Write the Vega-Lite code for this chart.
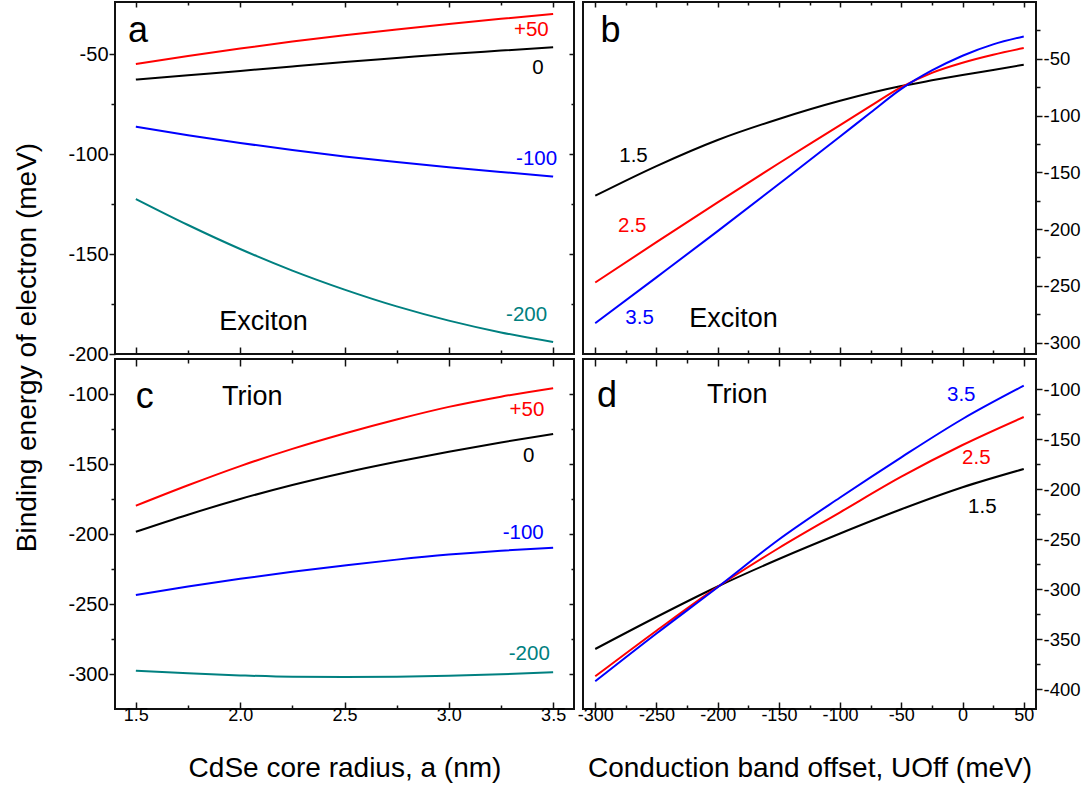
{
  "$schema": "https://vega.github.io/schema/vega-lite/v6.json",
  "padding": {"left": 12, "top": 0, "right": 5, "bottom": 5},
  "background": "white",
  "datasets": {
    "curves": [
      {"panel": "a", "series": "+50", "x": 1.5, "y": -55}, {"panel": "a", "series": "+50", "x": 1.75, "y": -51}, {"panel": "a", "series": "+50", "x": 2.0, "y": -47.3}, {"panel": "a", "series": "+50", "x": 2.25, "y": -43.8}, {"panel": "a", "series": "+50", "x": 2.5, "y": -40.6}, {"panel": "a", "series": "+50", "x": 2.75, "y": -37.7}, {"panel": "a", "series": "+50", "x": 3.0, "y": -35}, {"panel": "a", "series": "+50", "x": 3.25, "y": -32.4}, {"panel": "a", "series": "+50", "x": 3.5, "y": -30},
      {"panel": "a", "series": "0", "x": 1.5, "y": -62.8}, {"panel": "a", "series": "0", "x": 1.75, "y": -60.6}, {"panel": "a", "series": "0", "x": 2.0, "y": -58.5}, {"panel": "a", "series": "0", "x": 2.25, "y": -56.2}, {"panel": "a", "series": "0", "x": 2.5, "y": -54}, {"panel": "a", "series": "0", "x": 2.75, "y": -52}, {"panel": "a", "series": "0", "x": 3.0, "y": -50}, {"panel": "a", "series": "0", "x": 3.25, "y": -48.3}, {"panel": "a", "series": "0", "x": 3.5, "y": -46.6},
      {"panel": "a", "series": "-100", "x": 1.5, "y": -86.3}, {"panel": "a", "series": "-100", "x": 1.75, "y": -90.6}, {"panel": "a", "series": "-100", "x": 2.0, "y": -94.5}, {"panel": "a", "series": "-100", "x": 2.25, "y": -98}, {"panel": "a", "series": "-100", "x": 2.5, "y": -101.2}, {"panel": "a", "series": "-100", "x": 2.75, "y": -104}, {"panel": "a", "series": "-100", "x": 3.0, "y": -106.6}, {"panel": "a", "series": "-100", "x": 3.25, "y": -109}, {"panel": "a", "series": "-100", "x": 3.5, "y": -111.3},
      {"panel": "a", "series": "-200", "x": 1.5, "y": -122.5}, {"panel": "a", "series": "-200", "x": 1.75, "y": -135.5}, {"panel": "a", "series": "-200", "x": 2.0, "y": -147.5}, {"panel": "a", "series": "-200", "x": 2.25, "y": -158.3}, {"panel": "a", "series": "-200", "x": 2.5, "y": -167.8}, {"panel": "a", "series": "-200", "x": 2.75, "y": -176.2}, {"panel": "a", "series": "-200", "x": 3.0, "y": -183.3}, {"panel": "a", "series": "-200", "x": 3.25, "y": -189.2}, {"panel": "a", "series": "-200", "x": 3.5, "y": -194},

      {"panel": "c", "series": "+50", "x": 1.5, "y": -179.8}, {"panel": "c", "series": "+50", "x": 1.75, "y": -165.2}, {"panel": "c", "series": "+50", "x": 2.0, "y": -151.5}, {"panel": "c", "series": "+50", "x": 2.25, "y": -139.2}, {"panel": "c", "series": "+50", "x": 2.5, "y": -128.2}, {"panel": "c", "series": "+50", "x": 2.75, "y": -118.2}, {"panel": "c", "series": "+50", "x": 3.0, "y": -109.2}, {"panel": "c", "series": "+50", "x": 3.25, "y": -101.9}, {"panel": "c", "series": "+50", "x": 3.5, "y": -95.8},
      {"panel": "c", "series": "0", "x": 1.5, "y": -198.4}, {"panel": "c", "series": "0", "x": 1.75, "y": -186.2}, {"panel": "c", "series": "0", "x": 2.0, "y": -175}, {"panel": "c", "series": "0", "x": 2.25, "y": -165}, {"panel": "c", "series": "0", "x": 2.5, "y": -156.2}, {"panel": "c", "series": "0", "x": 2.75, "y": -148.4}, {"panel": "c", "series": "0", "x": 3.0, "y": -141.2}, {"panel": "c", "series": "0", "x": 3.25, "y": -134.6}, {"panel": "c", "series": "0", "x": 3.5, "y": -128.6},
      {"panel": "c", "series": "-100", "x": 1.5, "y": -243.6}, {"panel": "c", "series": "-100", "x": 1.75, "y": -237.5}, {"panel": "c", "series": "-100", "x": 2.0, "y": -232}, {"panel": "c", "series": "-100", "x": 2.25, "y": -227}, {"panel": "c", "series": "-100", "x": 2.5, "y": -222.5}, {"panel": "c", "series": "-100", "x": 2.75, "y": -218.3}, {"panel": "c", "series": "-100", "x": 3.0, "y": -214.7}, {"panel": "c", "series": "-100", "x": 3.25, "y": -211.9}, {"panel": "c", "series": "-100", "x": 3.5, "y": -209.8},
      {"panel": "c", "series": "-200", "x": 1.5, "y": -297.6}, {"panel": "c", "series": "-200", "x": 1.75, "y": -299.5}, {"panel": "c", "series": "-200", "x": 2.0, "y": -301}, {"panel": "c", "series": "-200", "x": 2.25, "y": -302}, {"panel": "c", "series": "-200", "x": 2.5, "y": -302.2}, {"panel": "c", "series": "-200", "x": 2.75, "y": -302}, {"panel": "c", "series": "-200", "x": 3.0, "y": -301.3}, {"panel": "c", "series": "-200", "x": 3.25, "y": -300.2}, {"panel": "c", "series": "-200", "x": 3.5, "y": -298.8},

      {"panel": "b", "series": "1.5", "x": -300, "y": -170.6}, {"panel": "b", "series": "1.5", "x": -250, "y": -144.5}, {"panel": "b", "series": "1.5", "x": -200, "y": -121.5}, {"panel": "b", "series": "1.5", "x": -150, "y": -103}, {"panel": "b", "series": "1.5", "x": -100, "y": -87}, {"panel": "b", "series": "1.5", "x": -50, "y": -74}, {"panel": "b", "series": "1.5", "x": -25, "y": -69}, {"panel": "b", "series": "1.5", "x": 0, "y": -64.3}, {"panel": "b", "series": "1.5", "x": 25, "y": -59.8}, {"panel": "b", "series": "1.5", "x": 50, "y": -55.3},
      {"panel": "b", "series": "2.5", "x": -300, "y": -247}, {"panel": "b", "series": "2.5", "x": -250, "y": -211.5}, {"panel": "b", "series": "2.5", "x": -200, "y": -176.5}, {"panel": "b", "series": "2.5", "x": -150, "y": -142}, {"panel": "b", "series": "2.5", "x": -100, "y": -108.5}, {"panel": "b", "series": "2.5", "x": -75, "y": -91.5}, {"panel": "b", "series": "2.5", "x": -50, "y": -75}, {"panel": "b", "series": "2.5", "x": -25, "y": -62.4}, {"panel": "b", "series": "2.5", "x": 0, "y": -53.5}, {"panel": "b", "series": "2.5", "x": 25, "y": -46.5}, {"panel": "b", "series": "2.5", "x": 50, "y": -40.6},
      {"panel": "b", "series": "3.5", "x": -300, "y": -282.9}, {"panel": "b", "series": "3.5", "x": -250, "y": -242.5}, {"panel": "b", "series": "3.5", "x": -200, "y": -201.8}, {"panel": "b", "series": "3.5", "x": -150, "y": -160.3}, {"panel": "b", "series": "3.5", "x": -100, "y": -118.5}, {"panel": "b", "series": "3.5", "x": -75, "y": -97.3}, {"panel": "b", "series": "3.5", "x": -50, "y": -76.5}, {"panel": "b", "series": "3.5", "x": -25, "y": -60.3}, {"panel": "b", "series": "3.5", "x": 0, "y": -47.3}, {"panel": "b", "series": "3.5", "x": 25, "y": -37.3}, {"panel": "b", "series": "3.5", "x": 50, "y": -30.3},

      {"panel": "d", "series": "1.5", "x": -300, "y": -360}, {"panel": "d", "series": "1.5", "x": -250, "y": -328}, {"panel": "d", "series": "1.5", "x": -200, "y": -297.5}, {"panel": "d", "series": "1.5", "x": -150, "y": -270}, {"panel": "d", "series": "1.5", "x": -100, "y": -244.5}, {"panel": "d", "series": "1.5", "x": -50, "y": -220.3}, {"panel": "d", "series": "1.5", "x": 0, "y": -198.3}, {"panel": "d", "series": "1.5", "x": 50, "y": -180},
      {"panel": "d", "series": "2.5", "x": -300, "y": -387.3}, {"panel": "d", "series": "2.5", "x": -250, "y": -341.7}, {"panel": "d", "series": "2.5", "x": -200, "y": -297.8}, {"panel": "d", "series": "2.5", "x": -150, "y": -259}, {"panel": "d", "series": "2.5", "x": -100, "y": -223.3}, {"panel": "d", "series": "2.5", "x": -50, "y": -187.7}, {"panel": "d", "series": "2.5", "x": 0, "y": -156}, {"panel": "d", "series": "2.5", "x": 50, "y": -128},
      {"panel": "d", "series": "3.5", "x": -300, "y": -392.3}, {"panel": "d", "series": "3.5", "x": -250, "y": -344.5}, {"panel": "d", "series": "3.5", "x": -200, "y": -298.2}, {"panel": "d", "series": "3.5", "x": -150, "y": -250.5}, {"panel": "d", "series": "3.5", "x": -100, "y": -208.5}, {"panel": "d", "series": "3.5", "x": -50, "y": -168.3}, {"panel": "d", "series": "3.5", "x": 0, "y": -130}, {"panel": "d", "series": "3.5", "x": 50, "y": -96.7}
    ],
    "labels": [
      {"panel": "a", "kind": "curve", "series": "+50", "text": "+50", "x": 3.479, "y": -38.2},
      {"panel": "a", "kind": "curve", "series": "0", "text": "0", "x": 3.455, "y": -56.9},
      {"panel": "a", "kind": "curve", "series": "-100", "text": "-100", "x": 3.519, "y": -102.7},
      {"panel": "a", "kind": "curve", "series": "-200", "text": "-200", "x": 3.471, "y": -180.7},
      {"panel": "a", "kind": "letter", "series": "none", "text": "a", "x": 1.462, "y": -44},
      {"panel": "a", "kind": "caption", "series": "none", "text": "Exciton", "x": 1.9, "y": -188.2},
      {"panel": "c", "kind": "curve", "series": "+50", "text": "+50", "x": 3.458, "y": -111.2},
      {"panel": "c", "kind": "curve", "series": "0", "text": "0", "x": 3.41, "y": -144.3},
      {"panel": "c", "kind": "curve", "series": "-100", "text": "-100", "x": 3.455, "y": -199.3},
      {"panel": "c", "kind": "curve", "series": "-200", "text": "-200", "x": 3.484, "y": -285.5},
      {"panel": "c", "kind": "letter", "series": "none", "text": "c", "x": 1.5, "y": -109.8},
      {"panel": "c", "kind": "caption", "series": "none", "text": "Trion", "x": 1.913, "y": -107.6},
      {"panel": "b", "kind": "curve", "series": "1.5", "text": "1.5", "x": -280.4, "y": -135.9},
      {"panel": "b", "kind": "curve", "series": "2.5", "text": "2.5", "x": -281.4, "y": -197.5},
      {"panel": "b", "kind": "curve", "series": "3.5", "text": "3.5", "x": -275.4, "y": -278.3},
      {"panel": "b", "kind": "letter", "series": "none", "text": "b", "x": -295.8, "y": -35.2},
      {"panel": "b", "kind": "caption", "series": "none", "text": "Exciton", "x": -223.2, "y": -286.2},
      {"panel": "d", "kind": "curve", "series": "3.5", "text": "3.5", "x": -12.7, "y": -106.3},
      {"panel": "d", "kind": "curve", "series": "2.5", "text": "2.5", "x": -0.4, "y": -169},
      {"panel": "d", "kind": "curve", "series": "1.5", "text": "1.5", "x": 4.5, "y": -218},
      {"panel": "d", "kind": "letter", "series": "none", "text": "d", "x": -298.6, "y": -118},
      {"panel": "d", "kind": "caption", "series": "none", "text": "Trion", "x": -208.7, "y": -113.7}
    ]
  },
  "columns": 2,
  "spacing": {"row": 5, "column": 9},
  "bounds": "flush",
  "concat": [
    {
      "width": 459, "height": 352,
      "layer": [
        {
          "data": {"name": "curves"},
          "transform": [{"filter": "datum.panel === 'a'"}],
          "mark": {"type": "line", "interpolate": "monotone", "strokeWidth": 2},
          "encoding": {
            "x": {"field": "x", "type": "quantitative", "scale": {"domain": [1.4, 3.6], "nice": false, "zero": false},
              "axis": {"orient": "bottom", "values": [1.5, 1.75, 2, 2.25, 2.5, 2.75, 3, 3.25, 3.5], "labels": false, "title": null,
                "tickSize": {"condition": {"test": "round(datum.value*4) % 2 === 0", "value": -7}, "value": -4}}},
            "y": {"field": "y", "type": "quantitative", "scale": {"domain": [-200, -24], "nice": false, "zero": false},
              "axis": {"orient": "left", "values": [-200, -175, -150, -125, -100, -75, -50], "labelFontSize": 20,
                "labelExpr": "datum.value % 50 === 0 ? '' + datum.value : ''", "labelPadding": 1,
                "tickSize": {"condition": {"test": "datum.value % 50 === 0", "value": 6}, "value": 4},
                "title": "Binding energy of electron (meV)", "titleY": 345, "titlePadding": 26}},
            "color": {"field": "series", "type": "nominal", "legend": null,
              "scale": {"domain": ["+50", "0", "-100", "-200", "1.5", "2.5", "3.5", "none"], "range": ["#ff0000", "#000000", "#0000ff", "#008080", "#000000", "#ff0000", "#0000ff", "#000000"]}}
          }
        },
        {
          "data": {"name": "labels"},
          "transform": [{"filter": "datum.panel === 'a' && datum.kind === 'curve'"}],
          "mark": {"type": "text", "align": "right", "baseline": "middle", "fontSize": 20.5},
          "encoding": {
            "x": {"field": "x", "type": "quantitative", "scale": {"domain": [1.4, 3.6], "nice": false, "zero": false},
              "axis": {"orient": "top", "values": [1.5, 1.75, 2, 2.25, 2.5, 2.75, 3, 3.25, 3.5], "labels": false, "title": null,
                "tickSize": {"condition": {"test": "round(datum.value*4) % 2 === 0", "value": -5}, "value": -3}}},
            "y": {"field": "y", "type": "quantitative", "scale": {"domain": [-200, -24], "nice": false, "zero": false},
              "axis": {"orient": "right", "values": [-175, -150, -125, -100, -75, -50], "labels": false, "title": null,
                "tickSize": {"condition": {"test": "datum.value % 50 === 0", "value": -5}, "value": -3}}},
            "text": {"field": "text"},
            "color": {"field": "series", "type": "nominal", "legend": null}
          }
        },
        {
          "data": {"name": "labels"},
          "transform": [{"filter": "datum.panel === 'a' && datum.kind === 'letter'"}],
          "mark": {"type": "text", "align": "left", "baseline": "alphabetic", "fontSize": 36, "color": "#000000"},
          "encoding": {
            "x": {"field": "x", "type": "quantitative", "axis": null},
            "y": {"field": "y", "type": "quantitative", "axis": null},
            "text": {"field": "text"}
          }
        },
        {
          "data": {"name": "labels"},
          "transform": [{"filter": "datum.panel === 'a' && datum.kind === 'caption'"}],
          "mark": {"type": "text", "align": "left", "baseline": "alphabetic", "fontSize": 27, "color": "#000000"},
          "encoding": {
            "x": {"field": "x", "type": "quantitative", "axis": null},
            "y": {"field": "y", "type": "quantitative", "axis": null},
            "text": {"field": "text"}
          }
        }
      ],
      "resolve": {"axis": {"x": "independent", "y": "independent"}}
    },
    {
      "width": 453, "height": 352,
      "layer": [
        {
          "data": {"name": "curves"},
          "transform": [{"filter": "datum.panel === 'b'"}],
          "mark": {"type": "line", "interpolate": "monotone", "strokeWidth": 2},
          "encoding": {
            "x": {"field": "x", "type": "quantitative", "scale": {"domain": [-310, 60], "nice": false, "zero": false},
              "axis": {"orient": "bottom", "values": [-300, -275, -250, -225, -200, -175, -150, -125, -100, -75, -50, -25, 0, 25, 50], "labels": false, "title": null,
                "tickSize": {"condition": {"test": "datum.value % 50 === 0", "value": -7}, "value": -4}}},
            "y": {"field": "y", "type": "quantitative", "scale": {"domain": [-310, 0], "nice": false, "zero": false},
              "axis": {"orient": "right", "values": [-300, -275, -250, -225, -200, -175, -150, -125, -100, -75, -50, -25], "labelFontSize": 18.5,
                "labelExpr": "datum.value % 50 === 0 ? '' + datum.value : ''", "labelPadding": 1, "title": null,
                "tickSize": {"condition": {"test": "datum.value % 50 === 0", "value": 6}, "value": 4}}},
            "color": {"field": "series", "type": "nominal", "legend": null}
          }
        },
        {
          "data": {"name": "labels"},
          "transform": [{"filter": "datum.panel === 'b' && datum.kind === 'curve'"}],
          "mark": {"type": "text", "align": "left", "baseline": "middle", "fontSize": 20.5},
          "encoding": {
            "x": {"field": "x", "type": "quantitative", "scale": {"domain": [-310, 60], "nice": false, "zero": false},
              "axis": {"orient": "top", "values": [-300, -275, -250, -225, -200, -175, -150, -125, -100, -75, -50, -25, 0, 25, 50], "labels": false, "title": null,
                "tickSize": {"condition": {"test": "datum.value % 50 === 0", "value": -5}, "value": -3}}},
            "y": {"field": "y", "type": "quantitative", "scale": {"domain": [-310, 0], "nice": false, "zero": false}, "axis": null},
            "text": {"field": "text"},
            "color": {"field": "series", "type": "nominal", "legend": null}
          }
        },
        {
          "data": {"name": "labels"},
          "transform": [{"filter": "datum.panel === 'b' && datum.kind === 'letter'"}],
          "mark": {"type": "text", "align": "left", "baseline": "alphabetic", "fontSize": 36, "color": "#000000"},
          "encoding": {
            "x": {"field": "x", "type": "quantitative", "axis": null},
            "y": {"field": "y", "type": "quantitative", "axis": null},
            "text": {"field": "text"}
          }
        },
        {
          "data": {"name": "labels"},
          "transform": [{"filter": "datum.panel === 'b' && datum.kind === 'caption'"}],
          "mark": {"type": "text", "align": "left", "baseline": "alphabetic", "fontSize": 27, "color": "#000000"},
          "encoding": {
            "x": {"field": "x", "type": "quantitative", "axis": null},
            "y": {"field": "y", "type": "quantitative", "axis": null},
            "text": {"field": "text"}
          }
        }
      ],
      "resolve": {"axis": {"x": "independent", "y": "independent"}}
    },
    {
      "width": 459, "height": 350,
      "layer": [
        {
          "data": {"name": "curves"},
          "transform": [{"filter": "datum.panel === 'c'"}],
          "mark": {"type": "line", "interpolate": "monotone", "strokeWidth": 2},
          "encoding": {
            "x": {"field": "x", "type": "quantitative", "scale": {"domain": [1.4, 3.6], "nice": false, "zero": false},
              "axis": {"orient": "bottom", "values": [1.5, 1.75, 2, 2.25, 2.5, 2.75, 3, 3.25, 3.5],
                "labelExpr": "round(datum.value*4) % 2 === 0 ? format(datum.value, '.1f') : ''", "labelPadding": 4,
                "tickSize": {"condition": {"test": "round(datum.value*4) % 2 === 0", "value": -7}, "value": -4},
                "title": "CdSe core radius, a (nm)", "titlePadding": 27}},
            "y": {"field": "y", "type": "quantitative", "scale": {"domain": [-325, -75], "nice": false, "zero": false},
              "axis": {"orient": "left", "values": [-300, -275, -250, -225, -200, -175, -150, -125, -100], "labelFontSize": 20,
                "labelExpr": "datum.value % 50 === 0 ? '' + datum.value : ''", "labelPadding": 1, "title": null,
                "tickSize": {"condition": {"test": "datum.value % 50 === 0", "value": 6}, "value": 4}}},
            "color": {"field": "series", "type": "nominal", "legend": null}
          }
        },
        {
          "data": {"name": "labels"},
          "transform": [{"filter": "datum.panel === 'c' && datum.kind === 'curve'"}],
          "mark": {"type": "text", "align": "right", "baseline": "middle", "fontSize": 20.5},
          "encoding": {
            "x": {"field": "x", "type": "quantitative", "scale": {"domain": [1.4, 3.6], "nice": false, "zero": false},
              "axis": {"orient": "top", "values": [1.5, 1.75, 2, 2.25, 2.5, 2.75, 3, 3.25, 3.5], "labels": false, "title": null,
                "tickSize": {"condition": {"test": "round(datum.value*4) % 2 === 0", "value": -7}, "value": -4}}},
            "y": {"field": "y", "type": "quantitative", "scale": {"domain": [-325, -75], "nice": false, "zero": false},
              "axis": {"orient": "right", "values": [-300, -275, -250, -225, -200, -175, -150, -125, -100], "labels": false, "title": null,
                "tickSize": {"condition": {"test": "datum.value % 50 === 0", "value": -5}, "value": -3}}},
            "text": {"field": "text"},
            "color": {"field": "series", "type": "nominal", "legend": null}
          }
        },
        {
          "data": {"name": "labels"},
          "transform": [{"filter": "datum.panel === 'c' && datum.kind === 'letter'"}],
          "mark": {"type": "text", "align": "left", "baseline": "alphabetic", "fontSize": 36, "color": "#000000"},
          "encoding": {
            "x": {"field": "x", "type": "quantitative", "axis": null},
            "y": {"field": "y", "type": "quantitative", "axis": null},
            "text": {"field": "text"}
          }
        },
        {
          "data": {"name": "labels"},
          "transform": [{"filter": "datum.panel === 'c' && datum.kind === 'caption'"}],
          "mark": {"type": "text", "align": "left", "baseline": "alphabetic", "fontSize": 27, "color": "#000000"},
          "encoding": {
            "x": {"field": "x", "type": "quantitative", "axis": null},
            "y": {"field": "y", "type": "quantitative", "axis": null},
            "text": {"field": "text"}
          }
        }
      ],
      "resolve": {"axis": {"x": "independent", "y": "independent"}}
    },
    {
      "width": 453, "height": 350,
      "layer": [
        {
          "data": {"name": "curves"},
          "transform": [{"filter": "datum.panel === 'd'"}],
          "mark": {"type": "line", "interpolate": "monotone", "strokeWidth": 2},
          "encoding": {
            "x": {"field": "x", "type": "quantitative", "scale": {"domain": [-310, 60], "nice": false, "zero": false},
              "axis": {"orient": "bottom", "values": [-300, -275, -250, -225, -200, -175, -150, -125, -100, -75, -50, -25, 0, 25, 50],
                "labelExpr": "datum.value % 50 === 0 ? '' + datum.value : ''", "labelPadding": 4,
                "tickSize": {"condition": {"test": "datum.value % 50 === 0", "value": -7}, "value": -4},
                "title": "Conduction band offset, UOff (meV)", "titlePadding": 27}},
            "y": {"field": "y", "type": "quantitative", "scale": {"domain": [-420, -70], "nice": false, "zero": false},
              "axis": {"orient": "right", "values": [-400, -375, -350, -325, -300, -275, -250, -225, -200, -175, -150, -125, -100], "labelFontSize": 18.5,
                "labelExpr": "datum.value % 50 === 0 ? '' + datum.value : ''", "labelPadding": 1, "title": null,
                "tickSize": {"condition": {"test": "datum.value % 50 === 0", "value": 6}, "value": 4}}},
            "color": {"field": "series", "type": "nominal", "legend": null}
          }
        },
        {
          "data": {"name": "labels"},
          "transform": [{"filter": "datum.panel === 'd' && datum.kind === 'curve'"}],
          "mark": {"type": "text", "align": "left", "baseline": "middle", "fontSize": 20.5},
          "encoding": {
            "x": {"field": "x", "type": "quantitative", "scale": {"domain": [-310, 60], "nice": false, "zero": false},
              "axis": {"orient": "top", "values": [-300, -275, -250, -225, -200, -175, -150, -125, -100, -75, -50, -25, 0, 25, 50], "labels": false, "title": null,
                "tickSize": {"condition": {"test": "datum.value % 50 === 0", "value": -7}, "value": -4}}},
            "y": {"field": "y", "type": "quantitative", "scale": {"domain": [-420, -70], "nice": false, "zero": false}, "axis": null},
            "text": {"field": "text"},
            "color": {"field": "series", "type": "nominal", "legend": null}
          }
        },
        {
          "data": {"name": "labels"},
          "transform": [{"filter": "datum.panel === 'd' && datum.kind === 'letter'"}],
          "mark": {"type": "text", "align": "left", "baseline": "alphabetic", "fontSize": 36, "color": "#000000"},
          "encoding": {
            "x": {"field": "x", "type": "quantitative", "axis": null},
            "y": {"field": "y", "type": "quantitative", "axis": null},
            "text": {"field": "text"}
          }
        },
        {
          "data": {"name": "labels"},
          "transform": [{"filter": "datum.panel === 'd' && datum.kind === 'caption'"}],
          "mark": {"type": "text", "align": "left", "baseline": "alphabetic", "fontSize": 27, "color": "#000000"},
          "encoding": {
            "x": {"field": "x", "type": "quantitative", "axis": null},
            "y": {"field": "y", "type": "quantitative", "axis": null},
            "text": {"field": "text"}
          }
        }
      ],
      "resolve": {"axis": {"x": "independent", "y": "independent"}}
    }
  ],
  "config": {
    "view": {"stroke": "#111111", "strokeWidth": 2},
    "axis": {"domain": false, "grid": false, "labelFont": "Liberation Sans", "labelFontSize": 18, "labelColor": "#000000",
      "labelOverlap": false, "labelFlush": false, "labelBound": false,
      "titleFont": "Liberation Sans", "titleFontSize": 28, "titleFontWeight": "normal", "titleColor": "#000000",
      "tickColor": "#111111", "tickWidth": 1.5},
    "text": {"font": "Liberation Sans"}
  }
}
